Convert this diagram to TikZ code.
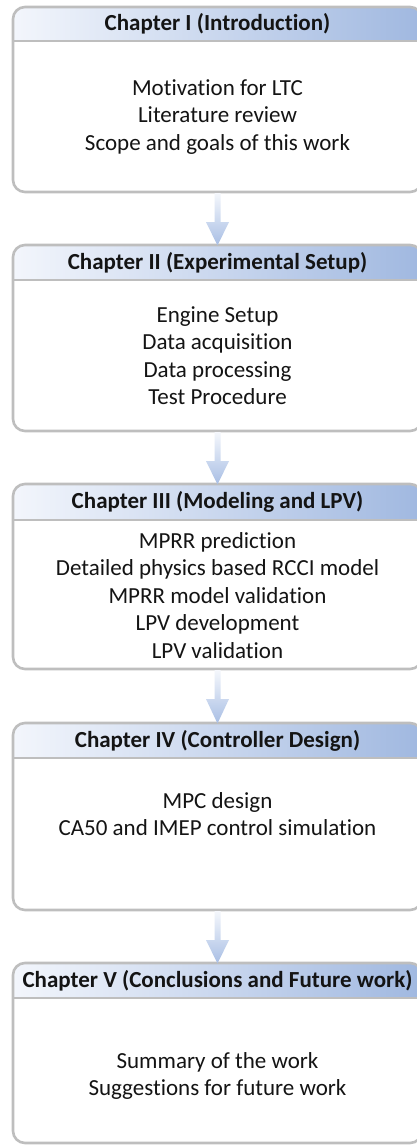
\documentclass[tikz,border=0pt]{standalone}
\usepackage{fontspec}
\setmainfont[Ligatures=NoCommon]{Carlito}
\usetikzlibrary{calc}
\definecolor{bordergray}{RGB}{190,190,190}
\definecolor{hdrL}{RGB}{243,246,252}
\definecolor{hdrR}{RGB}{160,184,224}
\definecolor{arrB}{RGB}{168,190,228}
\definecolor{txt}{RGB}{20,20,20}
\tikzset{
  chframe/.style={draw=bordergray, line width=2.6pt, rounded corners=12pt, fill=none,
    minimum width=409pt, anchor=north west, inner sep=0pt, outer sep=0pt},
  hdrtext/.style={font=\fontsize{23}{27.5}\selectfont\bfseries, text=txt, anchor=center},
  bodytext/.style={font=\fontsize{23}{27.5}\selectfont, text=txt, align=center, anchor=center},
  hdrshade/.style={left color=hdrL, right color=hdrR},
  sepline/.style={draw=bordergray, line width=2.6pt},
  flowarrow/.style={top color=arrB!12, bottom color=arrB, draw=none}
}
\newcommand{\chapterframe}[5]{% name, top, bottom, header bottom, title
  \begin{scope}
    \clip[rounded corners=12pt] (13,-#2) rectangle (422,-#3);
    \shade[hdrshade] (13,-#2) rectangle (422,-#4);
  \end{scope}
  \draw[sepline] (13,-#4) -- (422,-#4);
  \node[chframe, minimum height=#3pt-#2pt] (#1) at (13,-#2) {};
  \node[hdrtext] (#1t) at (217.5,{-(#2+#4)/2}) {#5};
}
\newcommand{\flowarrow}[2]{%
  \shade[flowarrow] ($(#1.south)+(-3,-1)$) -- ($(#1.south)+(3,-1)$) -- ($(#1.south)+(3,-30)$)
    -- ($(#1.south)+(11.5,-30)$) -- ($(#2.north)+(0,-0.5)$) -- ($(#1.south)+(-11.5,-30)$)
    -- ($(#1.south)+(-3,-30)$) -- cycle;
}
\begin{document}
\begin{tikzpicture}[x=1pt,y=1pt]
\useasboundingbox (0,0) rectangle (416,-1146);
\fill[white] (0,0) rectangle (416,-1146);

\chapterframe{c1}{7}{192}{41}{Chapter I (Introduction)}
\node[bodytext] (b1) at (217.5,-117) {Motivation for LTC\\Literature review\\Scope and goals of this work};

\chapterframe{c2}{245}{431}{280}{Chapter II (Experimental Setup)}
\node[bodytext] (b2) at (217.5,-355.5) {Engine Setup\\Data acquisition\\Data processing\\Test Procedure};

\chapterframe{c3}{484}{669}{520}{Chapter III (Modeling and LPV)}
\node[bodytext] (b3) at (217.5,-595.5) {MPRR prediction\\Detailed physics based RCCI model\\MPRR model validation\\LPV development\\LPV validation};

\chapterframe{c4}{723}{910}{758}{Chapter IV (Controller Design)}
\node[bodytext] (b4) at (217.5,-814) {MPC design\\CA50 and IMEP control simulation};

\chapterframe{c5}{963}{1143}{998}{Chapter V (Conclusions and Future work)}
\node[bodytext] (b5) at (217.5,-1076) {Summary of the work\\Suggestions for future work};

\flowarrow{c1}{c2}
\flowarrow{c2}{c3}
\flowarrow{c3}{c4}
\flowarrow{c4}{c5}
\end{tikzpicture}
\end{document}
